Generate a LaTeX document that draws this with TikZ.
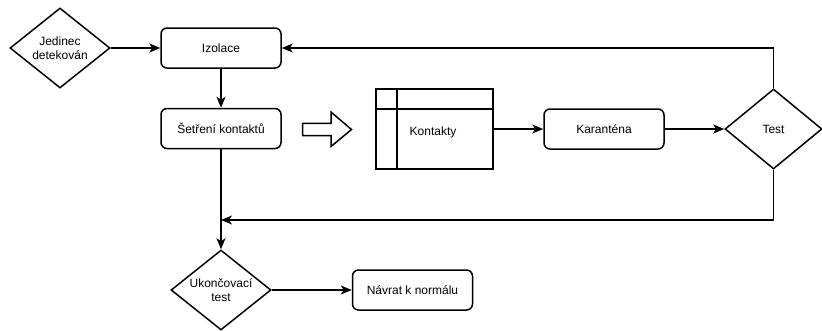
\documentclass[tikz,border=0pt]{standalone}
\usepackage{fontspec}
\setmainfont{Liberation Sans}
\usetikzlibrary{shapes.geometric,arrows.meta}
\begin{document}
\begin{tikzpicture}[x=1pt,y=-1pt,
  every node/.style={font=\fontsize{12}{14}\selectfont},
  proc/.style={draw,line width=1.5pt,rounded corners=6pt,minimum width=120pt,minimum height=40pt,inner sep=0pt},
  dec/.style={draw,line width=1.5pt,diamond,aspect=1.25,minimum width=100pt,minimum height=80pt,inner sep=0pt,align=center},
  conn/.style={line width=1.5pt,-{Stealth[length=11pt,width=9pt,inset=3pt]}},
  plain/.style={line width=1.5pt}]
\useasboundingbox (0,0) rectangle (822,330);

\node[dec] (det) at (60,48) {Jedinec\\detekován};
\node[proc] (izo) at (221,48) {Izolace};
\node[proc] (set) at (221,128.5) {Šetření kontaktů};
\node[dec] (uk) at (221,290) {Ukončovací\\test};
\node[proc] (nav) at (412.5,290) {Návrat k normálu};
\node[draw,line width=1.5pt,minimum width=117pt,minimum height=80pt,inner sep=0pt] (kon) at (434.5,129) {};
\node at (433,132) {Kontakty};
\draw[plain] (376,109) -- (493,109);
\draw[plain] (397,89) -- (397,169);
\node[proc] (kar) at (604,129) {Karanténa};
\node[dec,minimum width=97pt] (tst) at (773.5,129) {Test};
\draw[line width=1.5pt,line join=miter] (302.5,123.3) -- (331,123.3) -- (331,112) -- (351.5,129.5) -- (331,146.5) -- (331,135.7) -- (302.5,135.7) -- cycle;
\coordinate (m) at (221,220);

\draw[conn] (det.east) -- (izo.west);
\draw[conn] (izo.south) -- (set.north);
\draw[conn] (set.south) -- (uk.north);
\draw[conn] (kon.east) -- (kar.west);
\draw[conn] (kar.east) -- (tst.west);
\draw[conn] (tst.north) |- (izo.east);
\draw[conn] (tst.south) |- (m);
\draw[conn] (uk.east) -- (nav.west);
\end{tikzpicture}
\end{document}
